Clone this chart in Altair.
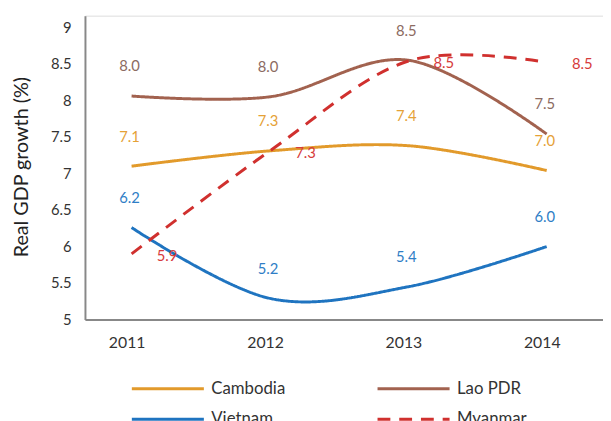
import altair as alt
import pandas as pd

years = [2011, 2012, 2013, 2014]
countries = ["Cambodia", "Lao PDR", "Vietnam", "Myanmar"]
legend_order = ["Cambodia", "Vietnam", "Lao PDR", "Myanmar"]

# values
cambodia = [7.10, 7.31, 7.38, 7.04]
lao = [8.06, 8.05, 8.55, 7.54]
vietnam = [6.26, 5.29, 5.45, 6.00]
myanmar = [5.90, 7.31, 8.54, 8.52]

# data labels as printed
cambodia_labels = ["7.1", "7.3", "7.4", "7.0"]
lao_labels = ["8.0", "8.0", "8.5", "7.5"]
vietnam_labels = ["6.2", "5.2", "5.4", "6.0"]
myanmar_labels = ["5.9", "7.3", "8.5", "8.5"]

line_colors = {"Cambodia": "#E29A2B", "Lao PDR": "#A2624F", "Vietnam": "#1F74C0", "Myanmar": "#D0302E"}
label_colors = {"Cambodia": "#E5A136", "Lao PDR": "#8C6B62", "Vietnam": "#2F7EC6", "Myanmar": "#D63B3B"}
dashes = {"Cambodia": [1, 0], "Lao PDR": [1, 0], "Vietnam": [1, 0], "Myanmar": [13, 9]}
y_ticks = [5.0, 5.5, 6.0, 6.5, 7.0, 7.5, 8.0, 8.5, 9.0]

series = [cambodia, lao, vietnam, myanmar]
labels = [cambodia_labels, lao_labels, vietnam_labels, myanmar_labels]

rows = []
for c, vals, labs in zip(countries, series, labels):
    for yr, v, l in zip(years, vals, labs):
        rows.append({"country": c, "year": yr, "value": v, "label": l})
df = pd.DataFrame(rows)

FONT = "Lato"

x_enc = alt.X(
    "year:Q",
    scale=alt.Scale(domain=[2010.663, 2014.407], nice=False, zero=False),
    axis=alt.Axis(
        values=years, format="d", title=None, ticks=False, grid=False,
        labelOffset=-5, labelPadding=15, labelFontSize=16, labelFont=FONT,
        labelColor="#333333", domainColor="#888888", domainWidth=2,
        labelFlush=False, labelOverlap=False,
    ),
)
y_enc = alt.Y(
    "value:Q",
    scale=alt.Scale(domain=[5, 9.16], nice=False, zero=False),
    axis=alt.Axis(
        values=y_ticks, title="Real GDP growth (%)", ticks=False,
        labelExpr="replace(format(datum.value, '.1f'), '.0', '')",
        grid=False, labelPadding=14, labelFontSize=15, labelFont=FONT,
        labelColor="#333333", domainColor="#888888", domainWidth=2,
        labelOverlap=False, labelSeparation=0,
        titleFont=FONT, titleFontSize=20, titleFontWeight="normal",
        titleColor="#222222", titleX=-64, titleY=153, titleAngle=270,
        titleAlign="center", titleBaseline="middle",
    ),
)

leg = alt.Legend(
    title=None, orient="none", legendX=46, legendY=370, columns=2,
    symbolType="stroke", symbolSize=5329, symbolStrokeWidth=3,
    clipHeight=16, rowPadding=14, columnPadding=92,
    labelFont=FONT, labelFontSize=17, labelColor="#333333", labelOffset=6,
)

lines = alt.Chart(df).mark_line(interpolate="cardinal", strokeWidth=3).encode(
    x=x_enc,
    y=y_enc,
    color=alt.Color("country:N",
                    scale=alt.Scale(domain=legend_order, range=[line_colors[c] for c in legend_order]),
                    sort=legend_order, legend=leg),
    strokeDash=alt.StrokeDash("country:N",
                              scale=alt.Scale(domain=legend_order, range=[dashes[c] for c in legend_order]),
                              sort=legend_order, legend=leg),
)

layers = [lines]
for c in countries:
    col = label_colors[c]
    if c == "Myanmar":
        mk = alt.Chart(df).mark_text(dx=36, dy=2, fontSize=15, font=FONT, color=col)
    else:
        mk = alt.Chart(df).mark_text(dx=-2, dy=-30, fontSize=15, font=FONT, color=col)
    layers.append(
        mk.transform_filter(alt.datum.country == c).encode(
            x=x_enc, y=y_enc, text="label:N"
        )
    )

chart = alt.layer(*layers).properties(
    width=525, height=308,
    autosize=alt.AutoSizeParams(type="none"),
    padding={"left": 78, "top": 5, "right": 0, "bottom": 100},
).configure_view(stroke=None).configure_axis(
    labelOverlap=False
).configure(background="white")

chart.save("out.html", embed_options={"renderer": "svg", "actions": False})
